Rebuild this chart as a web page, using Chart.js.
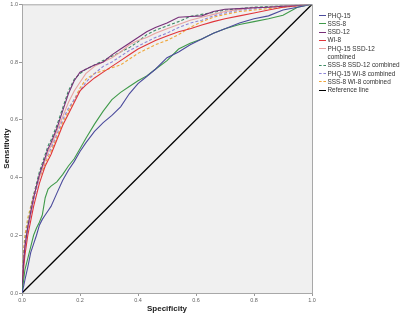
<!DOCTYPE html>
<html>
<head>
<meta charset="utf-8">
<script src="https://cdn.jsdelivr.net/npm/chart.js@4"></script>
<style>
html,body{margin:0;padding:0;background:#fff;}
#wrap{position:relative;width:400px;height:314px;}
#legend{position:absolute;left:318px;top:11.5px;font-family:"Liberation Sans",Arial,sans-serif;font-size:6.4px;color:#333;line-height:8.3px;}
.it{position:relative;padding-left:9.5px;white-space:nowrap;}
.sw{position:absolute;left:1px;top:3.6px;width:7px;height:0;border-top:1.6px solid #000;}
</style>
</head>
<body>
<div id="wrap">
<canvas id="c" width="400" height="314"></canvas>
<div id="legend"></div>
</div>
<script>
const fpr = [0,0.005,0.01,0.02,0.03,0.04,0.05,0.06,0.07,0.08,0.09,0.1,0.12,0.14,0.16,0.18,0.2,0.22,0.25,0.28,0.31,0.34,0.37,0.4,0.43,0.46,0.5,0.54,0.58,0.62,0.66,0.7,0.75,0.8,0.85,0.9,0.95,1.0];
const phq15 = [0,0.02,0.045,0.09,0.14,0.17,0.2,0.235,0.255,0.27,0.285,0.3,0.345,0.39,0.425,0.455,0.49,0.52,0.56,0.59,0.615,0.645,0.69,0.725,0.75,0.775,0.815,0.835,0.86,0.88,0.9,0.915,0.935,0.95,0.96,0.98,0.99,1];
const sss8 = [0,0.04,0.08,0.12,0.16,0.2,0.225,0.245,0.27,0.33,0.36,0.37,0.385,0.41,0.44,0.465,0.5,0.535,0.585,0.63,0.67,0.695,0.715,0.735,0.752,0.775,0.805,0.845,0.865,0.88,0.9,0.915,0.93,0.94,0.95,0.962,0.99,1];
const ssd12 = [0,0.1,0.16,0.23,0.28,0.33,0.37,0.41,0.44,0.47,0.5,0.52,0.57,0.63,0.69,0.735,0.765,0.775,0.79,0.8,0.825,0.845,0.865,0.885,0.905,0.92,0.935,0.955,0.958,0.96,0.975,0.983,0.985,0.988,0.99,0.993,0.996,1];
const wi8 = [0,0.08,0.13,0.2,0.25,0.3,0.34,0.38,0.41,0.44,0.46,0.48,0.53,0.58,0.62,0.66,0.7,0.72,0.745,0.765,0.785,0.805,0.825,0.845,0.86,0.875,0.89,0.905,0.915,0.928,0.94,0.95,0.96,0.97,0.98,0.99,0.995,1];
const phq15Ssd12 = [0,0.11,0.17,0.23,0.28,0.33,0.37,0.4,0.43,0.46,0.49,0.51,0.56,0.61,0.66,0.7,0.73,0.76,0.785,0.8,0.815,0.835,0.86,0.875,0.885,0.9,0.915,0.93,0.945,0.955,0.965,0.975,0.982,0.988,0.99,0.994,0.997,1];
const sss8Ssd12 = [0,0.12,0.18,0.24,0.29,0.34,0.38,0.42,0.45,0.48,0.51,0.53,0.58,0.64,0.7,0.74,0.76,0.775,0.79,0.805,0.82,0.835,0.85,0.87,0.895,0.91,0.925,0.94,0.958,0.965,0.972,0.98,0.985,0.99,0.992,0.995,0.997,1];
const phq15Wi8 = [0,0.1,0.16,0.22,0.27,0.32,0.36,0.4,0.43,0.46,0.48,0.5,0.55,0.6,0.64,0.67,0.7,0.73,0.76,0.785,0.8,0.82,0.84,0.855,0.87,0.885,0.9,0.92,0.935,0.945,0.96,0.97,0.98,0.985,0.99,0.994,0.997,1];
const sss8Wi8 = [0,0.14,0.2,0.26,0.3,0.34,0.37,0.4,0.42,0.45,0.47,0.49,0.54,0.59,0.63,0.67,0.71,0.74,0.76,0.77,0.78,0.79,0.81,0.83,0.845,0.86,0.875,0.895,0.92,0.94,0.955,0.965,0.975,0.98,0.985,0.99,0.995,1];
const refX = [0,1];
const refY = [0,1];
const xTicks = [0,0.2,0.4,0.6,0.8,1.0];
const yTicks = [0,0.2,0.4,0.6,0.8,1.0];

const series = [
  {label:'PHQ-15', y:phq15, color:'#4b4b9c', dash:[]},
  {label:'SSS-8', y:sss8, color:'#3f9a4a', dash:[]},
  {label:'SSD-12', y:ssd12, color:'#772f78', dash:[]},
  {label:'WI-8', y:wi8, color:'#e0353a', dash:[]},
  {label:'PHQ-15 SSD-12\ncombined', y:phq15Ssd12, color:'#e8a3a0', dash:[]},
  {label:'SSS-8 SSD-12 combined', y:sss8Ssd12, color:'#3c8a64', dash:[3,2]},
  {label:'PHQ-15 WI-8 combined', y:phq15Wi8, color:'#8e86d8', dash:[3,2]},
  {label:'SSS-8 WI-8 combined', y:sss8Wi8, color:'#f0a63a', dash:[3,2]}
];

const datasets = series.map(s => ({
  label: s.label,
  data: fpr.map((x,i) => ({x:x, y:s.y[i]})),
  borderColor: s.color,
  borderWidth: 1.1,
  borderDash: s.dash,
  showLine: true,
  pointRadius: 0,
  tension: 0,
  fill: false
}));
datasets.push({
  label:'Reference line',
  data: refX.map((x,i)=>({x:x,y:refY[i]})),
  borderColor:'#000', borderWidth:1.3, showLine:true, pointRadius:0, fill:false
});
const bgPlugin = {
  id:'bg',
  beforeDraw(chart){
    const {ctx, chartArea:a} = chart;
    ctx.save();
    ctx.fillStyle = '#f0f0f0';
    ctx.fillRect(a.left, a.top, a.right-a.left, a.bottom-a.top);
    ctx.restore();
  },
  afterDraw(chart){
    const {ctx, chartArea:a} = chart;
    ctx.save();
    ctx.strokeStyle = '#a8a8a8';
    ctx.lineWidth = 1;
    ctx.beginPath();
    ctx.moveTo(a.left, a.top+0.5); ctx.lineTo(a.right, a.top+0.5);
    ctx.moveTo(a.right+0.5, a.top); ctx.lineTo(a.right+0.5, a.bottom);
    ctx.stroke();
    ctx.restore();
  }
};

const tickFont = {family:'"Liberation Sans", Arial, sans-serif', size:5.5};
const titleFont = {family:'"Liberation Sans", Arial, sans-serif', size:8, weight:'bold'};

new Chart(document.getElementById('c'), {
  type:'scatter',
  data:{datasets},
  plugins:[bgPlugin],
  options:{
    responsive:false,
    animation:false,
    events:[],
    layout:{padding:{left:0, top:3, right:88, bottom:0}},
    plugins:{legend:{display:false}, tooltip:{enabled:false}},
    scales:{
      x:{
        type:'linear', min:0, max:1,
        afterBuildTicks(s){ s.ticks = xTicks.map(v=>({value:v})); },
        afterFit(s){ s.height = 21; },
        ticks:{callback:v=>Number(v).toFixed(1), font:tickFont, color:'#666', padding:1, maxRotation:0},
        grid:{drawOnChartArea:false, tickLength:3, color:'#999'},
        border:{color:'#a8a8a8'},
        title:{display:true, text:'Specificity', font:titleFont, color:'#222', padding:{top:0,bottom:0}}
      },
      y:{
        type:'linear', min:0, max:1,
        afterBuildTicks(s){ s.ticks = yTicks.map(v=>({value:v})); },
        afterFit(s){ s.width = 22; },
        ticks:{callback:v=>Number(v).toFixed(1), font:tickFont, color:'#666', padding:1},
        grid:{drawOnChartArea:false, tickLength:3, color:'#999'},
        border:{color:'#a8a8a8'},
        title:{display:true, text:'Sensitivity', font:titleFont, color:'#222', padding:{top:2,bottom:0}}
      }
    }
  }
});

const leg = document.getElementById('legend');
const legItems = series.map(s=>({label:s.label,color:s.color,dash:s.dash.length>0}));
legItems.push({label:'Reference line', color:'#000', dash:false});
legItems.forEach(it=>{
  const d = document.createElement('div');
  d.className='it';
  const sw = document.createElement('span');
  sw.className='sw';
  sw.style.borderTopColor = it.color;
  if(it.dash) sw.style.borderTopStyle='dashed';
  d.appendChild(sw);
  it.label.split('\n').forEach((t,k)=>{
    if(k>0) d.appendChild(document.createElement('br'));
    d.appendChild(document.createTextNode(t));
  });
  leg.appendChild(d);
});
</script>
</body>
</html>
